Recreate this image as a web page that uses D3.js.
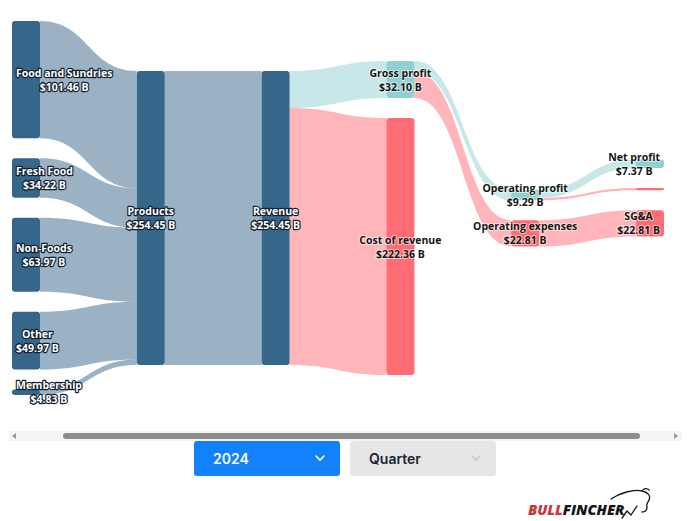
<!DOCTYPE html>
<html><head><meta charset="utf-8">
<script src="https://cdn.jsdelivr.net/npm/d3@7"></script>
<style>body{margin:0;background:#fff;overflow:hidden}svg{display:block}</style>
</head><body>
<svg id="chart" width="691" height="521"></svg>
<script>
// ---------------- DATA ----------------
const nodeNames = ["Food and Sundries","Fresh Food","Non-Foods","Other","Membership","Products","Revenue","Gross profit","Cost of revenue","Operating profit","Operating expenses","Net profit","Other expenses","SG&A"];
const nodeKinds = ["segment","segment","segment","segment","segment","segment","segment","profit","cost","profit","cost","profit","cost","cost"];
const linkSources = ["Food and Sundries","Fresh Food","Non-Foods","Other","Membership","Products","Revenue","Revenue","Gross profit","Gross profit","Operating profit","Operating profit","Operating expenses"];
const linkTargets = ["Products","Products","Products","Products","Products","Revenue","Gross profit","Cost of revenue","Operating profit","Operating expenses","Net profit","Other expenses","SG&A"];
const linkValues  = [101.46,34.22,63.97,49.97,4.83,254.45,32.10,222.36,9.29,22.81,7.37,1.92,22.81];
const yearOptions = ["2024"];
const periodOptions = ["Quarter"];
const brandParts = ["BULL","FINCHER"];

// ---------------- STYLE / LAYOUT SETTINGS ----------------
const kindColor = {segment:"#36668a", profit:"#91d0d1", cost:"#ff6c74"};
const extent = {x0:12, x1:664, y0:21, y1:415};
const nodeWidth = 28, nodePadding = 20;
const columnSlots = [6, 1, 1, 2, 2, 5];   // slots reserved per column (middle-aligned columns)
const fmt = v => "$" + d3.format(".2f")(v) + " B";

// ---------------- SANKEY LAYOUT (middle aligned columns) ----------------
function sankey(nodes, links) {
  const byName = new Map(nodes.map(n => [n.name, n]));
  nodes.forEach((n,i) => { n.index = i; n.sourceLinks = []; n.targetLinks = []; });
  links.forEach((l,i) => {
    l.index = i;
    l.source = byName.get(l.source); l.target = byName.get(l.target);
    l.source.sourceLinks.push(l); l.target.targetLinks.push(l);
  });
  nodes.forEach(n => n.value = n.targetLinks.length ? d3.sum(n.targetLinks, l => l.value) : d3.sum(n.sourceLinks, l => l.value));
  let cur = new Set(nodes), nxt = new Set(), d = 0;
  while (cur.size) {
    for (const n of cur) { n.depth = d; for (const l of n.sourceLinks) nxt.add(l.target); }
    d++; cur = nxt; nxt = new Set();
  }
  const nLayers = d3.max(nodes, n => n.depth) + 1;
  const xScale = d3.scaleLinear().domain([0, nLayers - 1]).range([extent.x0, extent.x1 - nodeWidth]);
  const columns = Array.from({length: nLayers}, () => []);
  nodes.forEach(n => { n.layer = n.depth; n.x0 = xScale(n.layer); n.x1 = n.x0 + nodeWidth; columns[n.layer].push(n); });
  const H = extent.y1 - extent.y0, py = nodePadding;
  const ky = d3.min(columns, (c, i) => (H - (columnSlots[i] - 1) * py) / d3.sum(c, n => n.value));
  const vScale = d3.scaleLinear().domain([0, 1]).range([0, ky]);
  columns.forEach((col, i) => {
    const colH = vScale(d3.sum(col, n => n.value)) + (columnSlots[i] - 1) * py;
    let y = extent.y0 + (H - colH) / 2;
    for (const n of col) { n.y0 = y; n.y1 = y + vScale(n.value); y = n.y1 + py; }
  });
  links.forEach(l => l.width = vScale(l.value));
  for (const n of nodes) {
    let a = n.y0, b = n.y0;
    for (const l of n.sourceLinks) { l.y0 = a + l.width/2; a += l.width; }
    for (const l of n.targetLinks) { l.y1 = b + l.width/2; b += l.width; }
  }
  return {nodes, links, nLayers};
}

const graph = sankey(
  nodeNames.map((name,i) => ({name, kind: nodeKinds[i]})),
  linkSources.map((s,i) => ({source: s, target: linkTargets[i], value: linkValues[i]}))
);

const svg = d3.select("#chart");

function linkArea(l) {
  const sx = l.source.x1, tx = l.target.x0, mx = (sx + tx) / 2, h = l.width / 2;
  const p = d3.path();
  p.moveTo(sx, l.y0 - h);
  p.bezierCurveTo(mx, l.y0 - h, mx, l.y1 - h, tx, l.y1 - h);
  p.lineTo(tx, l.y1 + h);
  p.bezierCurveTo(mx, l.y1 + h, mx, l.y0 + h, sx, l.y0 + h);
  p.closePath();
  return p.toString();
}
svg.append("g").selectAll("path").data(graph.links).join("path")
  .attr("d", linkArea)
  .attr("fill", l => kindColor[l.target.kind])
  .attr("fill-opacity", 0.5);

svg.append("g").selectAll("rect").data(graph.nodes).join("rect")
  .attr("x", n => n.x0).attr("y", n => n.y0)
  .attr("width", n => n.x1 - n.x0).attr("height", n => Math.max(1, n.y1 - n.y0))
  .attr("rx", n => Math.min(3, (n.y1 - n.y0)/2)).attr("ry", n => Math.min(3, (n.y1 - n.y0)/2))
  .attr("fill", n => kindColor[n.kind]);

const lastLayer = graph.nLayers - 1;
const lg = svg.append("g").attr("font-family", "'Open Sans', 'Noto Sans', sans-serif")
  .attr("font-size", 10.5).attr("font-weight", 700);
graph.nodes.filter(n => n.y1 - n.y0 >= 4).forEach(n => {
  const cy = (n.y0 + n.y1) / 2;
  const light = n.kind === "segment";
  const t = lg.append("text").attr("text-anchor", "middle")
    .attr("fill", light ? "#fff" : "#151515")
    .attr("stroke", light ? "#10202e" : "#fff")
    .attr("stroke-width", light ? 2.4 : 2)
    .attr("stroke-opacity", light ? 1 : 0.6)
    .attr("stroke-linejoin", "round")
    .attr("paint-order", "stroke");
  const a = t.append("tspan").attr("y", cy - 3).text(n.name);
  const b = t.append("tspan").attr("y", cy + 11).text(fmt(n.value));
  const w = Math.max(a.node().getComputedTextLength(), b.node().getComputedTextLength());
  let x = (n.x0 + n.x1) / 2;
  if (n.layer === 0) x = n.x0 + 4 + w / 2;
  else if (n.layer === lastLayer) x = n.x1 - 4 - w / 2;
  a.attr("x", x); b.attr("x", x);
});

// scrollbar
const sb = svg.append("g");
sb.append("rect").attr("x", 9).attr("y", 431).attr("width", 673).attr("height", 10).attr("fill", "#f4f4f4");
sb.append("rect").attr("x", 63).attr("y", 433).attr("width", 577).attr("height", 6).attr("rx", 3).attr("fill", "#8c8c8c");
sb.append("path").attr("d", "M12,436 L16,433 L16,439 Z").attr("fill", "#999");
sb.append("path").attr("d", "M678,436 L674,433 L674,439 Z").attr("fill", "#999");

// dropdowns
const dd = svg.append("g").attr("font-family", "Inter, 'Open Sans', sans-serif").attr("font-weight", 600).attr("font-size", 14);
function dropdown(x, label, bg, fg, chev) {
  dd.append("rect").attr("x", x).attr("y", 441).attr("width", 146).attr("height", 35).attr("rx", 3).attr("fill", bg);
  dd.append("text").attr("x", x + 19).attr("y", 464).attr("fill", fg).text(label);
  dd.append("path").attr("d", `M${x+122},${456} L${x+126},${460} L${x+130},${456}`)
    .attr("fill", "none").attr("stroke", chev).attr("stroke-width", 1.6).attr("stroke-linecap", "round");
}
dropdown(194, yearOptions[0], "#1182fc", "#fff", "#fff");
dropdown(350, periodOptions[0], "#e6e6e6", "#1d2433", "#c4c4c4");

// logo
const logo = svg.append("text").attr("x", 528).attr("y", 515)
  .attr("font-family", "'Open Sans', sans-serif").attr("font-style", "italic").attr("font-weight", 800).attr("font-size", 14.5);
logo.append("tspan").attr("fill", "#c8373b").text(brandParts[0]);
logo.append("tspan").attr("fill", "#151515").text(brandParts[1]);
svg.append("path")
  .attr("d", "M611,499 C620,493 633,489 642,491 C648,492 651,496 649,500 C648,503 646,503 647,507 C647,510 645,512 642,512 M622,518 L627,511 L631,515 L637,506 M642,491 C644,488 647,488 649,490")
  .attr("fill", "none").attr("stroke", "#151515").attr("stroke-width", 1.3).attr("stroke-linecap", "round").attr("stroke-linejoin", "round");
</script>
</body></html>
